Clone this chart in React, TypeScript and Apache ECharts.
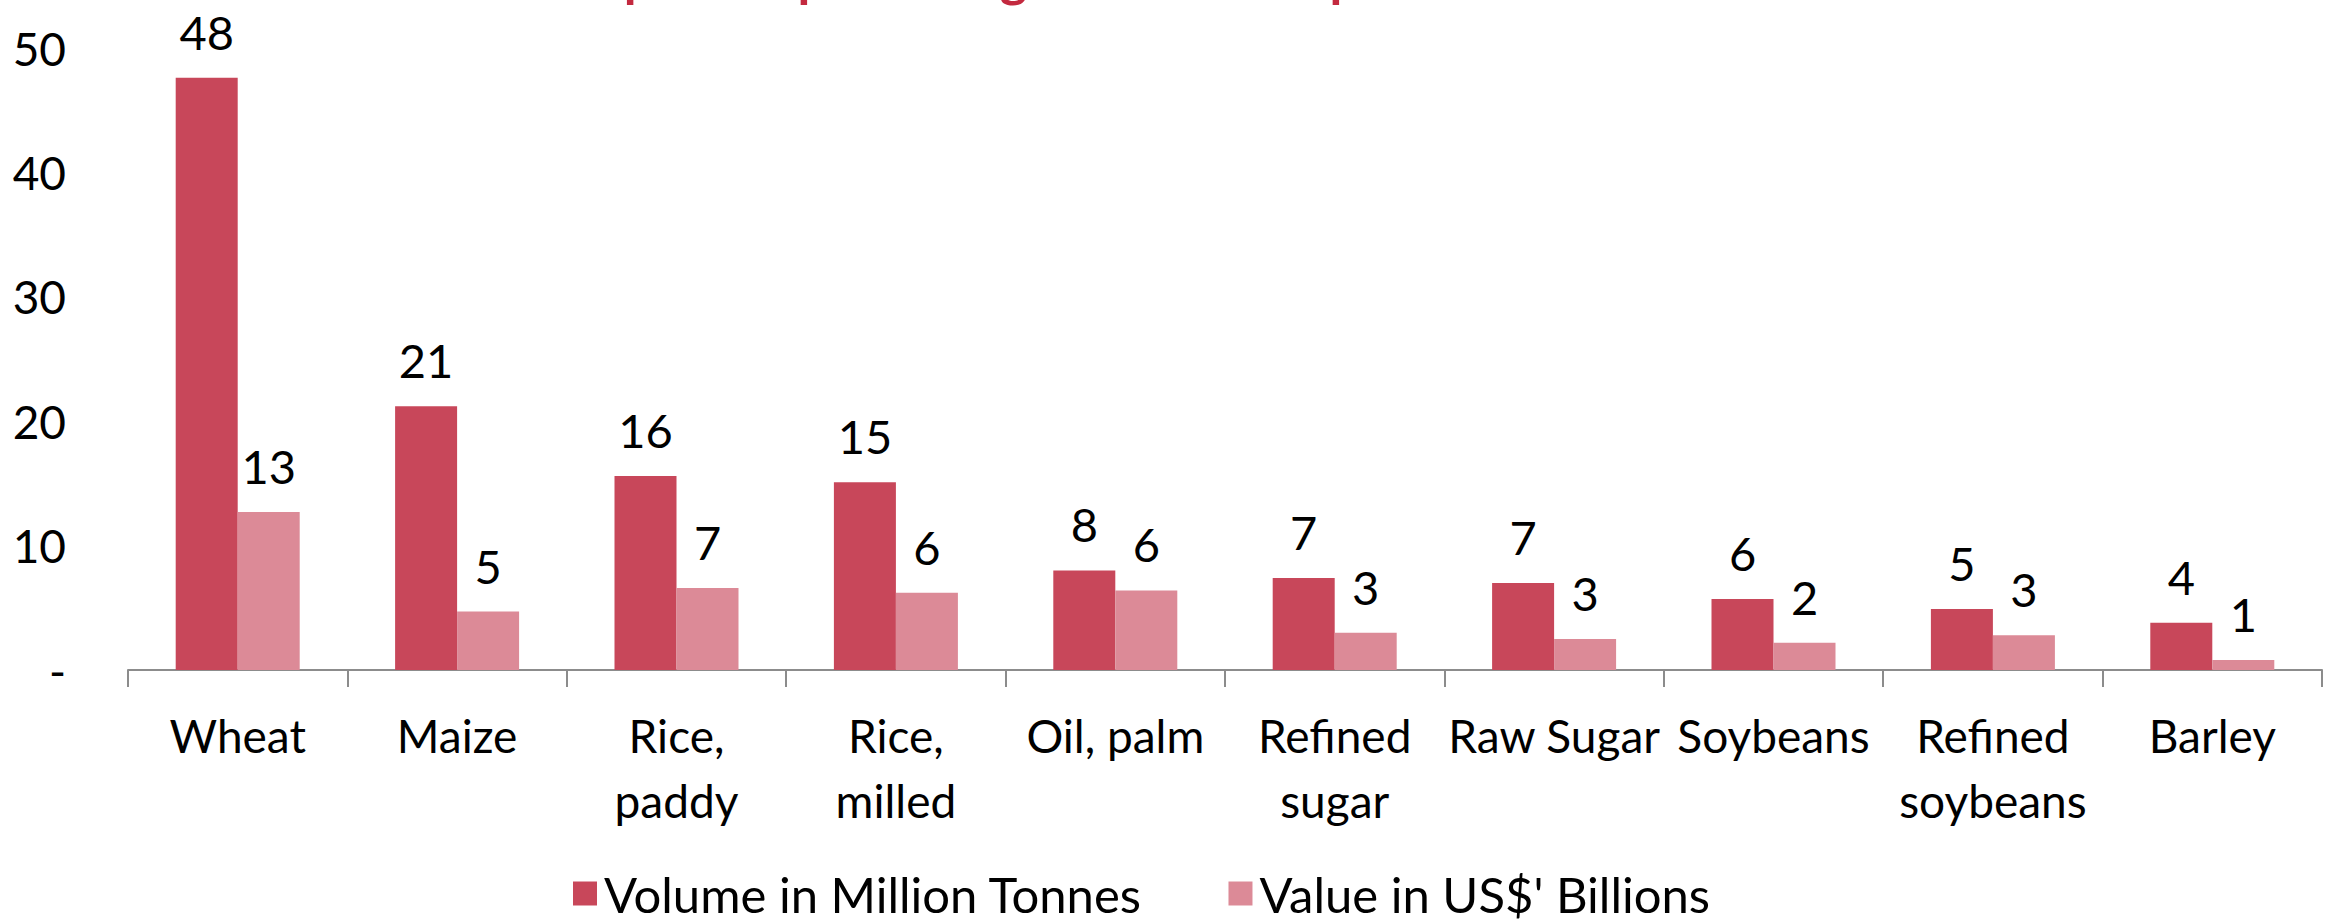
import React, { useEffect, useRef } from "react";
import * as echarts from "echarts";

const categories = [
  "Wheat",
  "Maize",
  "Rice,\npaddy",
  "Rice,\nmilled",
  "Oil, palm",
  "Refined\nsugar",
  "Raw Sugar",
  "Soybeans",
  "Refined\nsoybeans",
  "Barley",
];
const volumeMillionTonnes = [47.6, 21.2, 15.6, 15.1, 8.0, 7.4, 7.0, 5.7, 4.9, 3.8];
const valueUSDBillions = [12.7, 4.7, 6.6, 6.2, 6.4, 3.0, 2.5, 2.2, 2.8, 0.8];
const seriesNames = ["Volume in Million Tonnes", "Value in US$' Billions"];
const titleText = "Top 10 Imported Agricultural Crops in Africa - 2020";

const FONT = "Lato, 'Noto Sans', sans-serif";

export default function App() {
  const ref = useRef<HTMLDivElement>(null);
  useEffect(() => {
    if (!ref.current) return;
    const chart = echarts.init(ref.current, null, { renderer: "svg" });
    const label = {
      show: true,
      position: "top",
      distance: 26,
      color: "#000",
      fontFamily: FONT,
      fontSize: 47,
      lineHeight: 40,
      formatter: (p: any) => String(Math.round(p.value)),
    };
    chart.setOption({
      animation: false,
      backgroundColor: "#fff",
      graphic: [
        {
          type: "text",
          x: 1160,
          y: -24,
          style: {
            text: titleText,
            fill: "#C3293F",
            font: "bold 52px Lato, 'Noto Sans', sans-serif",
            align: "center",
            verticalAlign: "middle",
            textAlign: "center",
            textVerticalAlign: "middle",
          },
        },
      ],
      legend: {
        left: 573,
        top: 869,
        padding: 0,
        itemWidth: 24,
        itemHeight: 24,
        itemGap: 86,
        icon: "rect",
        data: seriesNames,
        textStyle: {
          fontFamily: FONT,
          fontSize: 49,
          lineHeight: 44,
          color: "#000",
          padding: [0, 0, 0, 2],
        },
      },
      grid: { left: 128, right: 11, top: 48, bottom: 252, containLabel: false },
      xAxis: {
        type: "category",
        data: categories,
        axisLine: { show: true, lineStyle: { color: "#8C8C8C", width: 2 } },
        axisTick: { show: true, length: 17, interval: 0, lineStyle: { color: "#8C8C8C", width: 2 } },
        axisLabel: {
          interval: 0,
          margin: 33,
          color: "#000",
          fontFamily: FONT,
          fontSize: 46,
          lineHeight: 65,
        },
        splitLine: { show: false },
      },
      yAxis: {
        type: "value",
        min: 0,
        max: 50,
        interval: 10,
        axisLine: { show: false },
        axisTick: { show: false },
        splitLine: { show: false },
        axisLabel: {
          margin: 62,
          color: "#000",
          fontFamily: FONT,
          fontSize: 46,
          formatter: (v: number) => (v === 0 ? "-" : String(v)),
        },
      },
      series: [
        {
          name: seriesNames[0],
          type: "bar",
          data: volumeMillionTonnes,
          barWidth: 62,
          barGap: "0%",
          itemStyle: { color: "#C8475A" },
          label,
        },
        {
          name: seriesNames[1],
          type: "bar",
          data: valueUSDBillions,
          barWidth: 62,
          barGap: "0%",
          itemStyle: { color: "#DC8A97" },
          label,
        },
      ],
    });
    return () => chart.dispose();
  }, []);
  return (
    <div
      ref={ref}
      style={{ position: "absolute", left: 0, top: 0, width: 2333, height: 922 }}
    />
  );
}
